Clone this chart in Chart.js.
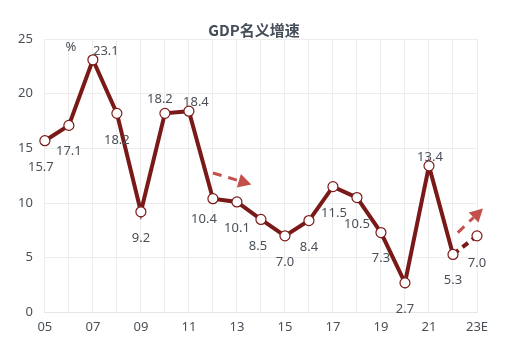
<!DOCTYPE html>
<html>
<head>
<meta charset="utf-8">
<script src="https://cdn.jsdelivr.net/npm/chart.js@4"></script>
<style>
  html, body { margin: 0; padding: 0; background: #fff; }
  #wrap { width: 508px; height: 342px; }
</style>
</head>
<body>
<div id="wrap"><canvas id="c"></canvas></div>
<script>
const years = ['05', '06', '07', '08', '09', '10', '11', '12', '13', '14', '15', '16', '17', '18', '19', '20', '21', '22', '23E']
const gdpGrowth = [15.7, 17.1, 23.1, 18.2, 9.2, 18.2, 18.4, 10.4, 10.1, 8.5, 7.0, 8.4, 11.5, 10.5, 7.3, 2.7, 13.4, 5.3, 7.0]
const yTicks = [0, 5, 10, 15, 20, 25]

// label offsets (px) relative to each point
const labelOffsets = [
    [-4, 27], [0, 26], [13, -8], [0, 27], [0, 27], [-5, -14], [7, -9], [-9, 21],
    [0, 26], [-3, 27], [0, 26], [0, 27], [1, 27], [0, 27], [0, 26], [0, 26],
    [1, -9], [0, 26], [0, 27],
]

// trend arrows in data space: [xFrom, yFrom, xTo, yTo]
const arrows = [
    [7.0, 12.75, 8.6, 11.7],
    [17.2, 7.3, 18.25, 9.5],
]

const lineColor = '#7a1a18'
const arrowColor = '#c4504c'
const textColor = '#4a5058'

const labelPlugin = {
    id: 'pointLabels',
    afterDatasetsDraw(chart) {
        const { ctx } = chart
        const meta = chart.getDatasetMeta(0)
        ctx.save()
        ctx.font = '13px "Noto Sans", sans-serif'
        ctx.fillStyle = textColor
        ctx.textAlign = 'center'
        ctx.textBaseline = 'middle'
        meta.data.forEach((pt, i) => {
            const [dx, dy] = labelOffsets[i]
            ctx.fillText(gdpGrowth[i].toFixed(1), pt.x + dx, pt.y + dy)
        })
        // unit label
        ctx.fillText('%', 71, 47)
        // title
        ctx.fillStyle = '#444d58'
        ctx.font = 'bold 15px "Noto Sans CJK SC", "Noto Sans", sans-serif'
        ctx.fillText('GDP名义增速', 254, 30)
        ctx.restore()
    },
    beforeDatasetsDraw(chart) {
        const { ctx, scales } = chart
        const { x, y } = scales
        ctx.save()
        ctx.strokeStyle = arrowColor
        ctx.fillStyle = arrowColor
        ctx.lineWidth = 3
        arrows.forEach(([x0, y0, x1, y1]) => {
            const px0 = x.getPixelForValue(x0)
            const py0 = y.getPixelForValue(y0)
            const px1 = x.getPixelForValue(x1)
            const py1 = y.getPixelForValue(y1)
            const ang = Math.atan2(py1 - py0, px1 - px0)
            const head = 13
            const bx = px1 - Math.cos(ang) * head
            const by = py1 - Math.sin(ang) * head
            ctx.setLineDash([9, 7])
            ctx.beginPath()
            ctx.moveTo(px0, py0)
            ctx.lineTo(bx, by)
            ctx.stroke()
            ctx.setLineDash([])
            ctx.beginPath()
            ctx.moveTo(px1, py1)
            ctx.lineTo(bx + Math.cos(ang + Math.PI / 2) * 7, by + Math.sin(ang + Math.PI / 2) * 7)
            ctx.lineTo(bx + Math.cos(ang - Math.PI / 2) * 7, by + Math.sin(ang - Math.PI / 2) * 7)
            ctx.closePath()
            ctx.fill()
        })
        ctx.restore()
    },
}

new Chart(document.getElementById('c'), {
    type: 'line',
    data: {
        labels: years,
        datasets: [
            {
                data: gdpGrowth,
                borderColor: lineColor,
                borderWidth: 4,
                pointRadius: 5,
                pointBorderWidth: 1.2,
                pointBackgroundColor: '#fff',
                pointBorderColor: lineColor,
                tension: 0,
                segment: {
                    borderDash: (c) => (c.p1DataIndex === years.length - 1 ? [7, 5] : undefined),
                },
            },
        ],
    },
    options: {
        responsive: true,
        maintainAspectRatio: false,
        animation: false,
        layout: { padding: { left: 6, right: 31, top: 39, bottom: 0 } },
        plugins: {
            legend: { display: false },
            tooltip: { enabled: false },
            title: { display: false },
        },
        scales: {
            x: {
                offset: false,
                grid: { color: '#ededed', drawTicks: false },
                border: { color: '#e6e6e6' },
                ticks: {
                    autoSkip: false,
                    maxRotation: 0,
                    padding: 7,
                    color: textColor,
                    font: { size: 13, family: '"Noto Sans", sans-serif' },
                    callback: (v, i) => (i % 2 === 0 ? years[i] : ''),
                },
            },
            y: {
                min: 0,
                max: 25,
                afterBuildTicks: (s) => { s.ticks = yTicks.map((v) => ({ value: v })) },
                grid: { color: '#ededed', drawTicks: false },
                border: { display: false },
                ticks: {
                    padding: 12,
                    color: textColor,
                    font: { size: 13, family: '"Noto Sans", sans-serif' },
                },
            },
        },
    },
    plugins: [labelPlugin],
})
</script>
</body>
</html>
